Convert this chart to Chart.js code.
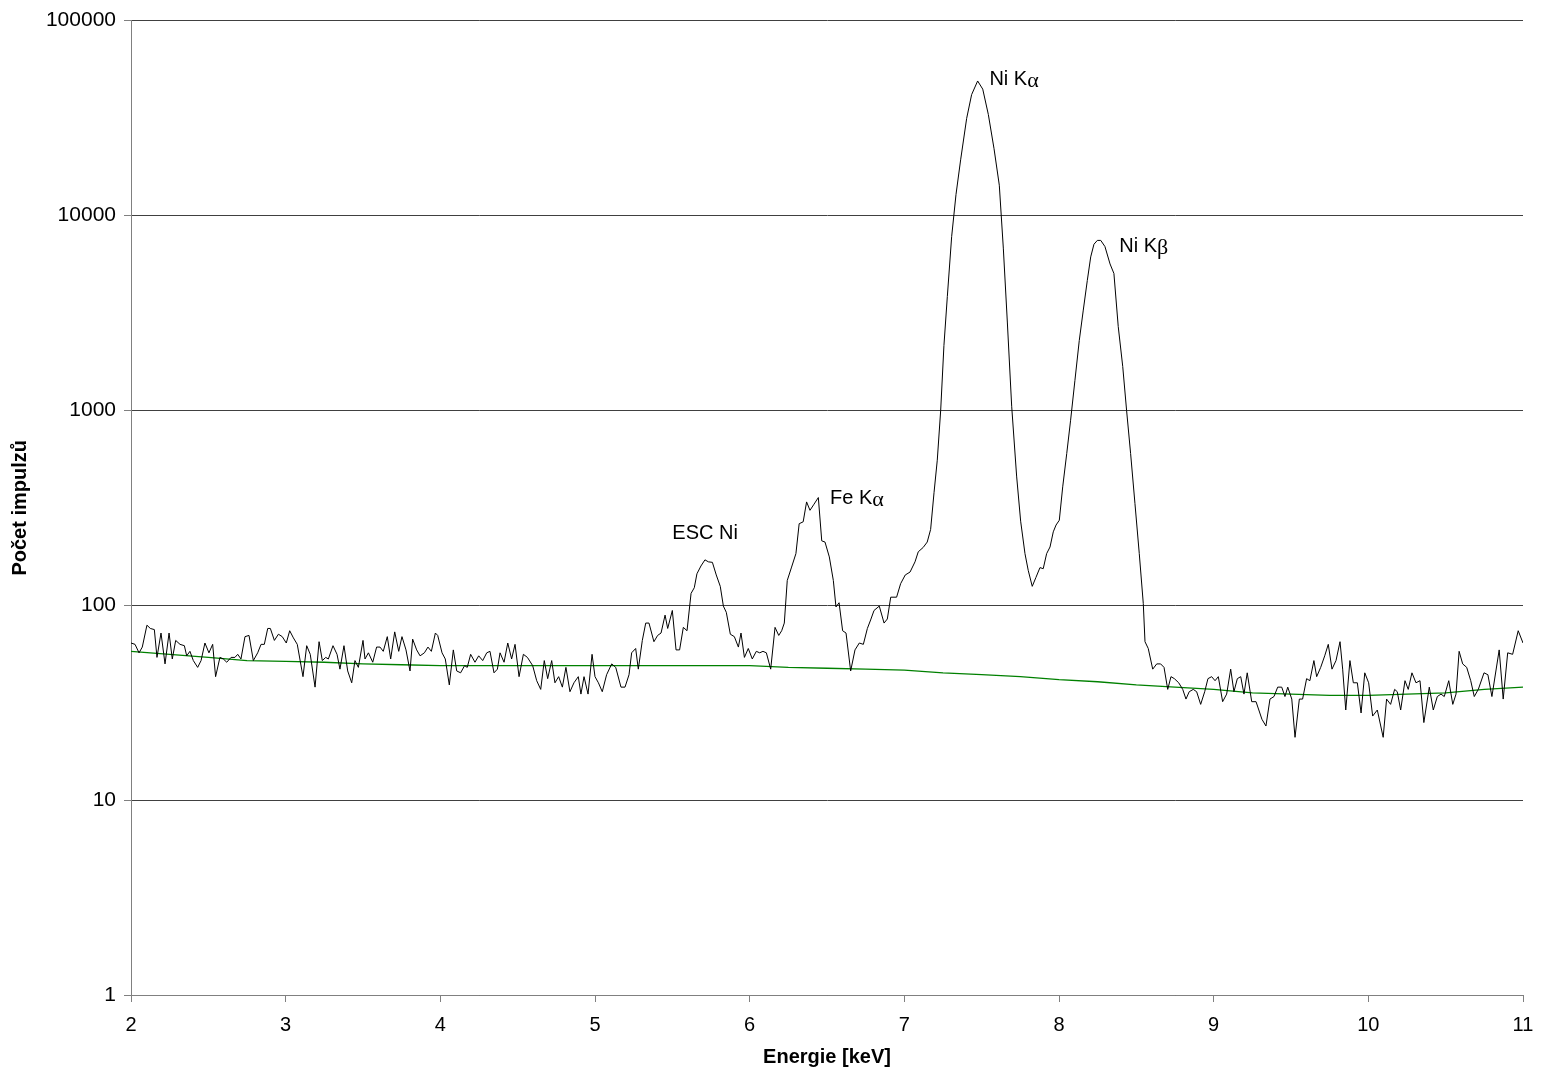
<!DOCTYPE html>
<html>
<head>
<meta charset="utf-8">
<script src="https://cdn.jsdelivr.net/npm/chart.js@4.4.1/dist/chart.umd.min.js"></script>
<style>
  html, body { margin:0; padding:0; background:#fff; }
  #wrap { width:1541px; height:1076px; }
</style>
</head>
<body>
<div id="wrap"><canvas id="spectrum" width="1541" height="1076"></canvas></div>
<script>
// measured spectrum (energy in keV, counts)
const energy = [
  2.000,2.026,2.052,2.073,2.103,2.125,2.151,2.168,2.194,2.220,2.246,2.267,2.289,2.317,2.345,2.360,2.381,2.403,2.431,2.453,
  2.478,2.504,2.528,2.547,2.575,2.597,2.619,2.647,2.672,2.690,2.711,2.737,2.763,2.791,2.819,2.841,2.862,2.884,2.901,2.927,
  2.953,2.978,3.004,3.026,3.050,3.075,3.112,3.136,3.159,3.190,3.216,3.237,3.259,3.276,3.306,3.332,3.351,3.377,3.401,3.427,
  3.448,3.470,3.500,3.513,3.535,3.563,3.588,3.610,3.631,3.657,3.679,3.705,3.731,3.752,3.778,3.804,3.821,3.847,3.869,3.897,
  3.920,3.942,3.968,3.983,4.011,4.032,4.058,4.084,4.106,4.131,4.157,4.174,4.196,4.224,4.248,4.274,4.300,4.321,4.347,4.369,
  4.386,4.412,4.436,4.461,4.483,4.509,4.537,4.563,4.597,4.623,4.649,4.672,4.694,4.720,4.741,4.765,4.789,4.812,4.838,4.864,
  4.892,4.909,4.929,4.955,4.981,5.000,5.022,5.047,5.075,5.108,5.134,5.168,5.194,5.220,5.237,5.263,5.280,5.306,5.328,5.349,
  5.381,5.405,5.427,5.453,5.470,5.500,5.524,5.547,5.571,5.595,5.621,5.642,5.659,5.685,5.711,5.733,5.759,5.784,5.810,5.830,
  5.849,5.875,5.901,5.927,5.944,5.966,5.991,6.017,6.043,6.065,6.086,6.108,6.136,6.164,6.188,6.207,6.224,6.243,6.271,6.299,
  6.320,6.346,6.368,6.390,6.416,6.444,6.466,6.487,6.515,6.541,6.558,6.578,6.601,6.623,6.653,6.681,6.709,6.735,6.761,6.782,
  6.804,6.838,6.869,6.890,6.912,6.950,6.976,7.006,7.037,7.069,7.090,7.122,7.148,7.170,7.192,7.213,7.235,7.256,7.278,7.306,
  7.334,7.364,7.403,7.435,7.474,7.507,7.543,7.580,7.614,7.640,7.666,7.694,7.726,7.752,7.780,7.801,7.827,7.851,7.877,7.898,
  7.920,7.942,7.963,7.981,8.002,8.024,8.050,8.075,8.103,8.131,8.157,8.183,8.205,8.226,8.248,8.270,8.297,8.330,8.355,8.383,
  8.412,8.437,8.463,8.491,8.519,8.545,8.556,8.577,8.606,8.632,8.657,8.679,8.703,8.724,8.746,8.774,8.800,8.821,8.842,8.868,
  8.890,8.916,8.942,8.963,8.987,9.009,9.030,9.058,9.084,9.110,9.131,9.153,9.175,9.196,9.217,9.246,9.274,9.312,9.338,9.364,
  9.390,9.414,9.440,9.461,9.479,9.505,9.526,9.554,9.575,9.601,9.622,9.648,9.666,9.692,9.718,9.741,9.765,9.791,9.817,9.834,
  9.854,9.881,9.903,9.929,9.953,9.977,10.002,10.028,10.058,10.096,10.118,10.144,10.170,10.187,10.209,10.237,10.258,10.282,10.308,10.334,
  10.359,10.394,10.420,10.446,10.470,10.491,10.520,10.546,10.567,10.587,10.610,10.636,10.662,10.685,10.711,10.748,10.773,10.799,10.846,10.872,
  10.901,10.933,10.969,11.000
];
const counts = [
  64,63,57,61,79,76,75,54,72,50,72,53,66,63,62,55,58,52,48,52,
  64,57,63,43,54,53,51,54,54,56,53,69,70,52,57,63,63,76,76,66,
  71,69,64,74,68,63,43,62,56,38,65,52,54,53,62,56,47,62,46,40,
  52,48,66,53,57,51,61,61,58,69,53,73,58,69,59,46,67,59,55,57,
  61,58,72,70,57,53,39,59,46,45,49,48,56,51,55,52,57,58,45,47,
  57,51,64,53,63,43,56,54,49,41,37,52,42,52,40,43,38,48,36,40,
  43,35,43,35,56,43,40,36,44,50,48,38,38,44,57,60,47,66,81,81,
  65,70,72,89,76,94,59,59,77,74,115,123,145,159,171,167,166,143,125,99,
  92,71,69,61,72,54,60,53,58,57,58,57,47,77,70,74,81,134,157,184,
  262,268,339,307,330,357,214,211,177,134,98,103,74,72,46,59,64,63,76,84,
  94,99,81,85,110,110,129,143,148,167,188,198,211,245,378,555,1000,2150,3840,7800,
  12800,19300,31500,41700,49000,44500,33000,22000,14300,6800,2840,1050,460,270,184,151,125,139,156,154,
  184,199,238,258,273,405,600,890,1425,2280,3270,4640,6130,7120,7450,7450,6930,5640,5040,2690,
  1680,1000,600,333,184,102,65,60,47,50,50,48,37,43,42,40,37,33,36,37,
  36,31,36,42,43,41,43,32,35,47,36,42,43,35,45,32,32,26,24,33,
  34,38,38,34,38,33,21,33,33,42,41,52,43,48,55,63,47,52,65,47,
  29,52,40,40,28,45,40,27,29,21,33,31,37,36,29,41,37,45,40,41,
  25,38,29,34,35,34,41,31,35,58,50,48,41,34,37,45,44,34,59,33,
  57,56,74,64
];

// fitted background (green)
const bgEnergy = [2.0,2.25,2.5,2.75,3.0,3.25,3.5,3.75,4.0,4.25,4.5,4.75,5.0,5.25,5.5,5.75,6.0,6.25,
  6.5,6.75,7.0,7.25,7.5,7.75,8.0,8.25,8.5,8.75,9.0,9.25,9.5,9.75,10.0,10.25,10.5,10.75,11.0];
const bgCounts = [58,56,54,52,51.5,51,50,49.5,49,49,49,49,49,49,49,49,49,48,
  47.5,47,46.5,45,44,43,41.5,40.5,39,38,37,35.5,35,34.5,34.5,35,35.5,37,38];

const xTicks = [2,3,4,5,6,7,8,9,10,11];
const yTicks = [1,10,100,1000,10000,100000];

// peak annotations: text, greek suffix, anchor (keV, counts)
const peakNames = ["ESC Ni","Fe K","Ni K","Ni K"];
const peakGreek = ["","α","α","β"];
const peakE = [5.50, 6.52, 7.55, 8.39];
const peakC = [234, 354, 49800, 6935];

const font = "'Liberation Sans', Arial, sans-serif";

const peakLabels = {
  id: 'peakLabels',
  afterDatasetsDraw(chart) {
    const {ctx, scales:{x, y}} = chart;
    ctx.save();
    ctx.fillStyle = '#000';
    ctx.textBaseline = 'middle';
    ctx.textAlign = 'left';
    peakNames.forEach((name, i) => {
      let px = x.getPixelForValue(peakE[i]);
      const py = y.getPixelForValue(peakC[i]);
      ctx.font = "20px " + font;
      ctx.fillText(name, px, py);
      if (peakGreek[i]) {
        px += ctx.measureText(name).width;
        ctx.font = "22px 'Liberation Serif', 'DejaVu Serif', serif";
        ctx.fillText(peakGreek[i], px, py + 2);
      }
    });
    ctx.restore();
  }
};

const ctx = document.getElementById("spectrum").getContext("2d");
new Chart(ctx, {
  type: 'scatter',
  data: {
    datasets: [
      {
        data: energy.map((e, i) => ({ x: e, y: counts[i] })),
        showLine: true, borderColor: '#000', borderWidth: 1,
        pointRadius: 0, tension: 0
      },
      {
        data: bgEnergy.map((e, i) => ({ x: e, y: bgCounts[i] })),
        showLine: true, borderColor: '#008000', borderWidth: 1.3,
        pointRadius: 0, tension: 0
      }
    ]
  },
  options: {
    responsive: false,
    animation: false,
    events: [],
    layout: { padding: { top: 20, right: 18, left: 0, bottom: 0 } },
    plugins: { legend: { display: false }, tooltip: { enabled: false } },
    scales: {
      x: {
        type: 'linear', min: 2, max: 11,
        afterBuildTicks: s => { s.ticks = xTicks.map(v => ({ value: v })); },
        afterFit: s => { s.height = 81; s.paddingLeft = 0; s.paddingRight = 0; },
        grid: { drawOnChartArea: false, tickLength: 7, tickColor: '#808080' },
        border: { color: '#808080', width: 1 },
        ticks: { color: '#000', font: { family: font, size: 20 }, padding: 11, maxRotation: 0,
                 callback: v => String(v) },
        title: { display: true, text: 'Energie [keV]', color: '#000',
                 font: { family: font, size: 20, weight: 'bold' }, padding: { top: 0, bottom: 7 } }
      },
      y: {
        type: 'logarithmic', min: 1, max: 100000,
        afterBuildTicks: s => { s.ticks = yTicks.map(v => ({ value: v })); },
        afterFit: s => { s.width = 131; },
        grid: { color: '#404040', tickLength: 7, tickColor: '#808080' },
        border: { color: '#808080', width: 1 },
        ticks: { color: '#000', font: { family: font, size: 21 }, padding: 8,
                 callback: v => String(v) },
        title: { display: true, text: 'Počet impulzů', color: '#000',
                 font: { family: font, size: 20, weight: 'bold' }, padding: { top: 8, bottom: 0 } }
      }
    }
  },
  plugins: [peakLabels]
});
</script>
</body>
</html>
